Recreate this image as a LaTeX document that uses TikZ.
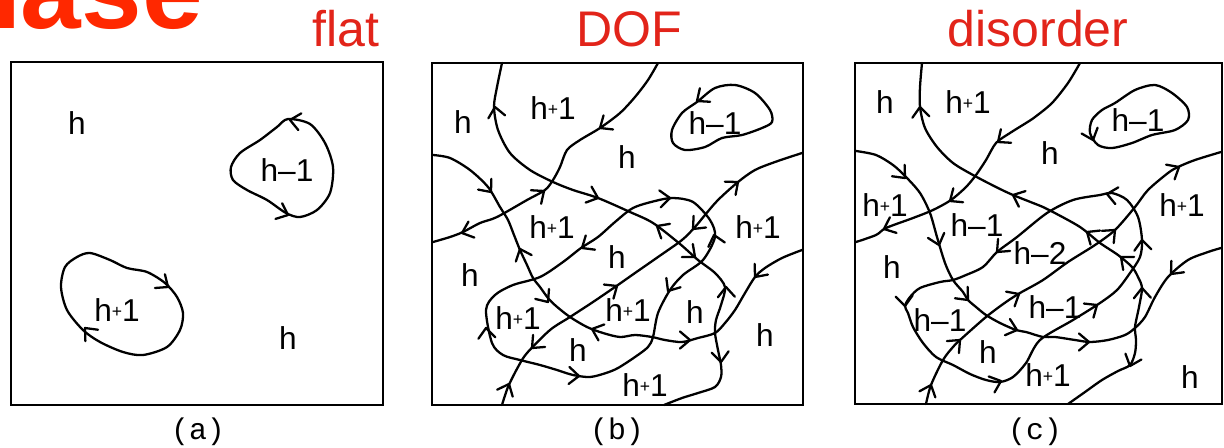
\documentclass[tikz,border=0pt]{standalone}
\usepackage{fontspec}
\setmainfont{Liberation Sans}
\newfontfamily\panelmono{Liberation Mono}
\usetikzlibrary{
  arrows.meta, % 箭头样式
  calc         % 坐标计算
}
\definecolor{phasered}{RGB}{255,40,0}
\definecolor{titlered}{RGB}{226,36,26}

\tikzset{
  contour/.style={line width=1.3pt, line join=round, line cap=round},
  frame/.style={line width=1pt},
  hlab/.style={font=\fontsize{18}{18}\selectfont, inner sep=0pt},
  panlab/.style={font=\panelmono\fontsize{17}{17}\selectfont, inner sep=0pt},
  phaselab/.style={font=\fontsize{28.5}{28.5}\selectfont, text=titlered, anchor=base, inner sep=0pt},
  ah/.pic={\draw[contour] (-10,8.5) -- (0,0) -- (-10,-8.5);}
}
\newcommand{\hplus}{h\raisebox{0.12em}{\fontsize{10}{10}\selectfont+}1}

\begin{document}
\begin{tikzpicture}[x=0.02cm, y=-0.02cm]
  \useasboundingbox (0,0) rectangle (1224,447);

  % =========== 标题 ===========
  \node[anchor=base east, font=\bfseries\fontsize{62}{62}\selectfont, text=phasered, inner sep=0pt] (phase) at (203,28) {Phase};
  \node[phaselab] (t-flat) at (346,46) {flat};
  \node[phaselab] (t-dof) at (629,46) {DOF};
  \node[phaselab] (t-dis) at (1038,46) {disorder};

  % =========== 图(a)：平坦相 ===========
  \draw[frame] (11,62) rectangle (383,405);
  \node[panlab] (lab-a) at (198,432) {(a)};
  \draw[contour] plot[smooth cycle] coordinates {(288,119) (310,124) (325,143) (333,167) (330,193) (317,210) (300,217) (286,213) (267,200) (247,190) (233,180) (231,167) (240,153) (260,140) (277,127)};
  \draw[contour] plot[smooth cycle] coordinates {(90,253) (110,260) (127,268) (147,272) (165,283) (177,297) (183,313) (180,330) (167,347) (143,355) (123,352) (100,342) (83,330) (67,310) (61,287) (65,267) (77,257)};
  \foreach \x/\y/\a in {290/120/170, 288/215/-23, 168/287/-36, 85/328/132}
    \pic[rotate=\a] at (\x,\y) {ah};
  \node[hlab] (a-h1) at (77,123) {h};
  \node[hlab] (a-hm) at (287,170) {h--1};
  \node[hlab] (a-hp) at (117,310) {\hplus};
  \node[hlab] (a-h2) at (288,338) {h};

  % =========== 图(b)：DOF 相 ===========
  \draw[frame] (432,63) rectangle (803,405);
  \node[panlab] (lab-b) at (617,432) {(b)};
  % 左上大弧，向下穿过中部到底边
  \draw[contour] plot[smooth] coordinates {(502,63) (497,87) (494,107) (498,130) (510,153) (530,170) (553,182) (573,190) (598,198) (630,212) (653,223) (680,244) (698,260) (715,273) (725,287) (721,305) (716,320) (715,333) (718,350) (721,365) (721,377) (715,387) (698,393) (682,398) (664,405)};
  % 顶边到左边
  \draw[contour] plot[smooth] coordinates {(658,63) (648,80) (635,97) (620,113) (600,128) (580,140) (567,150) (560,167) (553,180) (545,190) (527,200) (497,217) (480,223) (463,232) (450,237) (433,242)};
  % 左边到右边
  \draw[contour] plot[smooth] coordinates {(433,155) (450,158) (470,170) (488,187) (500,207) (508,220) (514,235) (520,250) (527,265) (533,278) (540,287) (548,298) (556,306) (570,317) (587,327) (603,333) (620,337) (635,335) (652,337) (665,340) (682,342) (698,338) (715,333) (725,323) (735,310) (745,293) (755,277) (765,268) (782,258) (802,250)};
  % 对角线
  \draw[contour] plot[smooth] coordinates {(502,405) (508,387) (518,367) (527,353) (550,330) (570,317) (593,302) (615,287) (635,273) (658,257) (682,240) (695,227) (705,215) (718,200) (738,182) (755,170) (775,162) (802,153)};
  % 闭合环
  \draw[contour] plot[smooth cycle] coordinates {(486,310) (495,295) (513,285) (540,277) (563,262) (581,248) (598,237) (615,222) (633,208) (655,201) (673,198) (693,202) (710,220) (715,237) (703,260) (683,275) (670,290) (658,313) (653,337) (648,347) (635,357) (618,368) (606,373) (590,377) (573,375) (557,370) (540,365) (520,360) (503,355) (492,343)};
  \draw[contour] plot[smooth cycle] coordinates {(697,102) (715,88) (735,85) (755,93) (770,110) (772,122) (762,128) (742,135) (722,138) (705,147) (685,150) (673,143) (672,130) (682,113)};
  \foreach \x/\y/\a in {495/107/100, 598/198/-20, 657/226/149, 695/257/-40, 726/287/92, 721/362/-85,
                        600/128/214, 544/191/37, 462/233/200,
                        491/192/-51, 520/249/112, 548/302/-54, 592/329/160, 690/340/0, 755/277/231,
                        509/384/66, 532/348/225, 617/286/34, 693/229/227, 738/182/39,
                        582/248/213, 670/198/5, 714/235/105, 668/291/237, 579/376/-3, 486/328/95,
                        697/101/217}
    \pic[rotate=\a] at (\x,\y) {ah};
  \node[hlab] (b-h1) at (463,122) {h};
  \node[hlab] (b-hp1) at (553,108) {\hplus};
  \node[hlab] (b-hm) at (715,123) {h--1};
  \node[hlab] (b-h2) at (627,157) {h};
  \node[hlab] (b-hp2) at (552,227) {\hplus};
  \node[hlab] (b-hp3) at (758,227) {\hplus};
  \node[hlab] (b-h3) at (617,257) {h};
  \node[hlab] (b-h4) at (470,275) {h};
  \node[hlab] (b-hp4) at (518,318) {\hplus};
  \node[hlab] (b-hp5) at (628,310) {\hplus};
  \node[hlab] (b-h5) at (695,312) {h};
  \node[hlab] (b-h6) at (765,335) {h};
  \node[hlab] (b-h7) at (578,350) {h};
  \node[hlab] (b-hp6) at (645,385) {\hplus};

  % =========== 图(c)：无序相 ===========
  \draw[frame] (855,63) rectangle (1222,404);
  \node[panlab] (lab-c) at (1035,432) {(c)};
  \draw[contour] plot[smooth] coordinates {(922,63) (920,87) (920,107) (925,128) (937,147) (953,163) (973,175) (996,187) (1013,195) (1043,207) (1053,212) (1080,227) (1100,243) (1118,255) (1132,267) (1138,277) (1142,288) (1139,307) (1135,327) (1136,340) (1135,353) (1130,365) (1118,371) (1102,380) (1085,392) (1068,404)};
  \draw[contour] plot[smooth] coordinates {(1080,63) (1068,83) (1052,103) (1035,117) (1026,123) (1010,133) (996,143) (986,160) (976,175) (966,187) (951,200) (933,210) (913,218) (886,228) (876,235) (856,242)};
  \draw[contour] plot[smooth] coordinates {(856,151) (876,155) (893,165) (906,177) (920,193) (930,213) (937,237) (945,263) (953,280) (963,292) (968,300) (976,307) (986,315) (1000,323) (1016,330) (1026,332) (1043,337) (1055,337) (1075,340) (1090,342) (1108,340) (1125,335) (1135,328) (1145,317) (1155,297) (1168,277) (1188,260) (1208,252) (1221,248)};
  \draw[contour] plot[smooth] coordinates {(926,404) (931,385) (943,360) (953,347) (960,340) (986,317) (1006,302) (1020,293) (1043,280) (1068,262) (1095,245) (1115,230) (1135,207) (1148,190) (1168,173) (1178,167) (1195,160) (1221,152)};
  \draw[contour] plot[smooth cycle] coordinates {(905,306) (910,297) (920,288) (940,282) (953,280) (966,275) (983,267) (997,252) (1017,237) (1047,213) (1073,200) (1100,195) (1112,193) (1127,200) (1138,217) (1142,240) (1140,257) (1130,273) (1117,290) (1100,303) (1073,320) (1040,340) (1026,363) (1013,377) (1000,382) (986,380) (970,374) (953,365) (936,357) (923,343) (913,327) (908,313)};
  \draw[contour] plot[smooth cycle] coordinates {(1115,103) (1135,90) (1155,85) (1172,93) (1187,107) (1188,120) (1175,130) (1152,135) (1132,143) (1112,148) (1098,145) (1090,133) (1092,120) (1102,110)};
  \foreach \x/\y/\a in {920/107/95, 1013/195/157, 1087/232/146, 1121/257/140, 1142/288/92, 1130/366/-110,
                        998/142/217, 950/201/215, 884/229/203,
                        905/178/-48, 939/245/-73, 968/300/-48, 1017/330/-17, 1089/342/0, 1171/274/228,
                        931/385/69, 960/340/45, 1019/294/30, 1115/230/44, 1179/167/30,
                        997/252/225, 1107/194/170, 1142/240/95, 1097/305/34, 1001/381/20, 905/306/-85,
                        1093/140/-70}
    \pic[rotate=\a] at (\x,\y) {ah};
  \node[hlab] (c-h1) at (885,102) {h};
  \node[hlab] (c-hp1) at (968,102) {\hplus};
  \node[hlab] (c-hm1) at (1138,120) {h--1};
  \node[hlab] (c-h2) at (1050,153) {h};
  \node[hlab] (c-hp2) at (885,205) {\hplus};
  \node[hlab] (c-hp3) at (1182,205) {\hplus};
  \node[hlab] (c-hm2) at (977,225) {h--1};
  \node[hlab] (c-hm3) at (1040,253) {h--2};
  \node[hlab] (c-h3) at (892,267) {h};
  \node[hlab] (c-hm4) at (940,320) {h--1};
  \node[hlab] (c-hm5) at (1055,307) {h--1};
  \node[hlab] (c-h4) at (988,352) {h};
  \node[hlab] (c-hp4) at (1048,375) {\hplus};
  \node[hlab] (c-h5) at (1190,377) {h};

\end{tikzpicture}
\end{document}
